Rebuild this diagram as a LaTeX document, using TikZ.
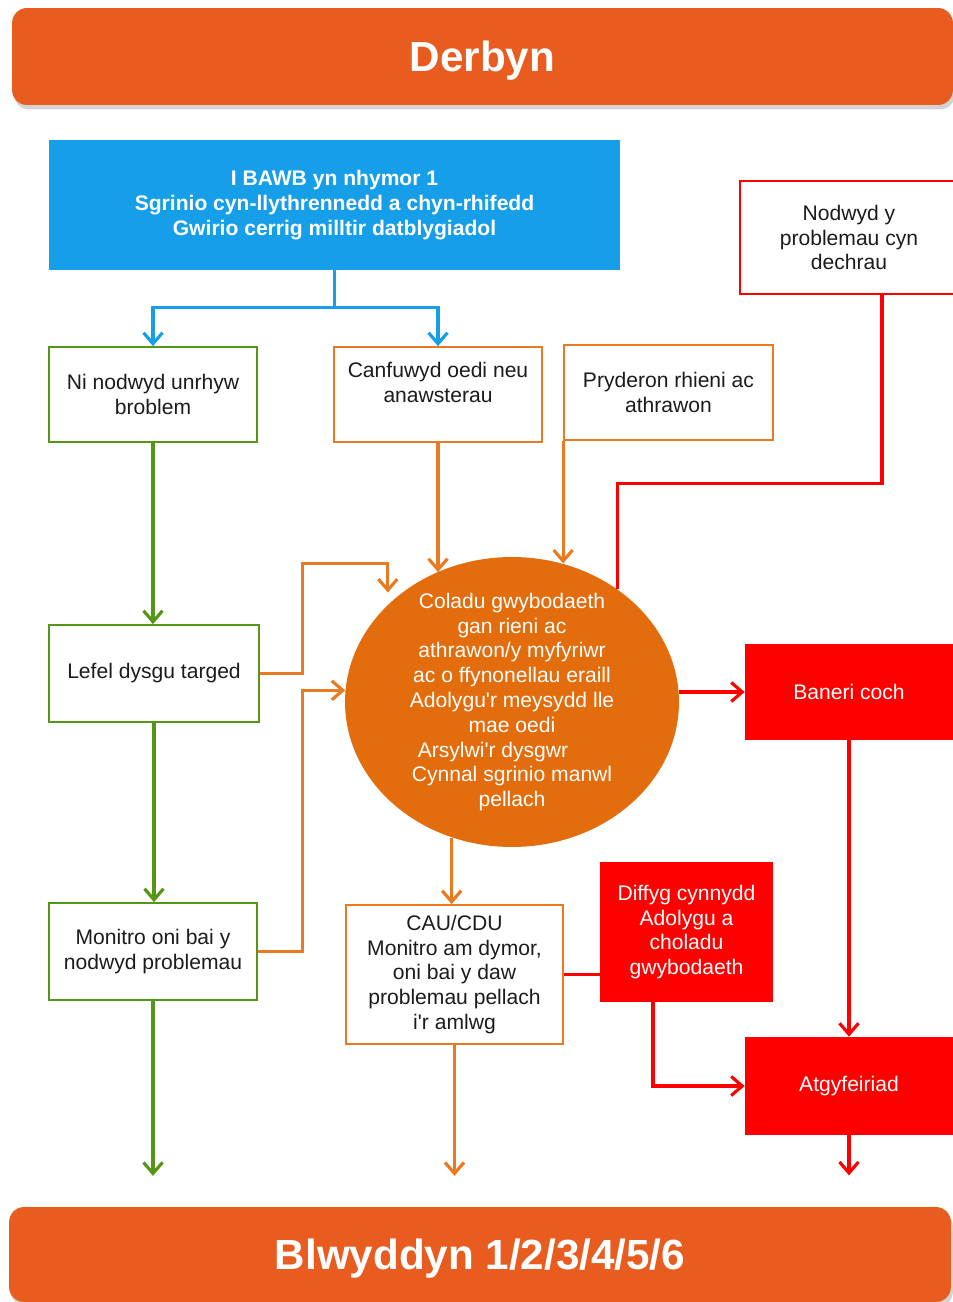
\documentclass[tikz,border=0pt]{standalone}
\usepackage{fontspec}
\setmainfont{Liberation Sans}
\usepackage{tikz}
\usetikzlibrary{shapes.geometric}
\usetikzlibrary{arrows.meta}
\usetikzlibrary{shadows}
\usepackage{xcolor}

\definecolor{bannerOrange}{RGB}{233,92,32}
\definecolor{blobOrange}{RGB}{227,108,12}
\definecolor{lineOrange}{RGB}{234,122,34}
\definecolor{boxBlue}{RGB}{22,159,232}
\definecolor{lineGreen}{RGB}{86,150,22}
\definecolor{boxRed}{RGB}{255,0,0}
\definecolor{textGrey}{RGB}{28,28,28}

\begin{document}
\begin{tikzpicture}[x=0.02cm, y=-0.02cm]

\useasboundingbox (0,0) rectangle (953,1302);

\tikzset
  {
    myBanner/.style=    {fill=bannerOrange, rounded corners=0.3cm, text=white, text depth=0pt, font=\fontsize{24}{28}\selectfont\bfseries, drop shadow={opacity=0.35, shadow xshift=0.4mm, shadow yshift=-0.9mm}},
    myBox/.style=       {draw, fill=white, line width=1pt, align=center, text=textGrey, font=\fontsize{12}{14}\selectfont},
    myFilled/.style=    {fill=boxRed, text=white, align=center, font=\fontsize{12}{14}\selectfont},
    myLine/.style=      {line width=1.8pt},
    myArrow/.style=     {line width=1.8pt, -{Straight Barb[length=2.2mm, width=3.8mm]}}
  }

% banners
\node[myBanner, minimum width=18.82cm, minimum height=1.94cm] (derbyn) at (482.5,56.5) {Derbyn};
\node[myBanner, minimum width=18.84cm, minimum height=1.9cm] (blwyddyn) at (480,1254.5) {Blwyddyn 1/2/3/4/5/6};

% boxes
{
\node[fill=boxBlue, text=white, align=center, font=\fontsize{12}{14}\selectfont\bfseries, minimum width=11.42cm, minimum height=2.6cm] (bawb) at (334.5,205)
{I BAWB yn nhymor 1\\Sgrinio cyn-llythrennedd a chyn-rhifedd\\Gwirio cerrig milltir datblygiadol};

\node[myBox, draw=lineGreen, minimum width=4.16cm, minimum height=1.9cm] (niNodwyd) at (153,394.5)
{Ni nodwyd unrhyw\\broblem};
\node[myBox, draw=lineOrange, minimum width=4.16cm, minimum height=1.9cm] (canfuwyd) at (438,394.5)
{Canfuwyd oedi neu\\anawsterau\\\mbox{}};
\node[myBox, draw=lineOrange, minimum width=4.18cm, minimum height=1.9cm] (pryderon) at (668.5,392.5)
{Pryderon rhieni ac\\athrawon};
\node[myBox, draw=boxRed, minimum width=4.36cm, minimum height=2.26cm] (nodwyd) at (849,237.5)
{Nodwyd y\\problemau cyn\\dechrau};

\node[myBox, draw=lineGreen, minimum width=4.2cm, minimum height=1.94cm] (lefel) at (154,673.5)
{Lefel dysgu targed};
\node[myBox, draw=lineGreen, minimum width=4.16cm, minimum height=1.94cm] (monitro) at (153,951.5)
{Monitro oni bai y\\nodwyd problemau};
\node[myBox, draw=lineOrange, minimum width=4.34cm, minimum height=2.78cm] (cau) at (454.5,974.5)
{CAU/CDU\\Monitro am dymor,\\oni bai y daw\\problemau pellach\\i\textquotesingle r amlwg};

\node[myFilled, minimum width=3.46cm, minimum height=2.8cm] (diffyg) at (686.5,932)
{Diffyg cynnydd\\Adolygu a\\choladu\\gwybodaeth};
\node[myFilled, minimum width=4.16cm, minimum height=1.92cm] (baneri) at (849,692) {Baneri coch};
\node[myFilled, minimum width=4.16cm, minimum height=1.96cm] (atgyf) at (849,1086) {Atgyfeiriad};
}

% ellipse
{
\node[ellipse, fill=blobOrange, minimum width=6.68cm, minimum height=5.8cm, inner sep=0pt] (coladu) at (512,702) {};
\node[align=center, text=white, font=\fontsize{12}{14.1}\selectfont] (coladuText) at (coladu.center)
{Coladu gwybodaeth\\gan rieni ac\\athrawon/y myfyriwr\\ac o ffynonellau eraill\\Adolygu\textquotesingle r meysydd lle\\mae oedi\\Arsylwi\textquotesingle r dysgwr\hspace{0.76cm}\mbox{}\\Cynnal sgrinio manwl\\pellach};
}

% blue
\draw[myArrow, boxBlue] (bawb.south) -- ++(0,37) -| (niNodwyd.north);
\draw[myArrow, boxBlue] (bawb.south) ++(0,37) -| (canfuwyd.north);

% green
\draw[myArrow, lineGreen] (niNodwyd.south) -- (niNodwyd.south |- lefel.north);
\draw[myArrow, lineGreen] (lefel.south) -- (lefel.south |- monitro.north);
\draw[myArrow, lineGreen] (monitro.south) -- ++(0,175);

% orange
\draw[myArrow, lineOrange] (canfuwyd.south) -- (canfuwyd.south |- coladu.120);
\draw[myArrow, lineOrange] (pryderon.south west) -- (pryderon.south west |- coladu.70);
\draw[myArrow, lineOrange] (lefel.east) -- ++(43,0) |- ++(85,-110) -- ++(0,29);
\draw[myArrow, lineOrange] (monitro.east) -- ++(45,0) |- (coladu.176);
\draw[myArrow, lineOrange] (coladu.246) -- (coladu.246 |- cau.north);
\draw[myArrow, lineOrange] (cau.south) -- ++(0,131);

% red
\draw[myLine, boxRed] ([xshift=0.66cm]nodwyd.south) -- ++(0,189) -| (coladu.47);
\draw[myArrow, boxRed] (coladu.east |- baneri.west) -- (baneri.west);
\draw[myArrow, boxRed] (baneri.south) -- (atgyf.north);
\draw[myArrow, boxRed] (atgyf.south) -- ++(0,40);
\draw[myLine, boxRed] (cau.east) -- (cau.east -| diffyg.west);
\draw[myArrow, boxRed] ([xshift=-0.67cm]diffyg.south) |- (atgyf.west);

\end{tikzpicture}
\end{document}
